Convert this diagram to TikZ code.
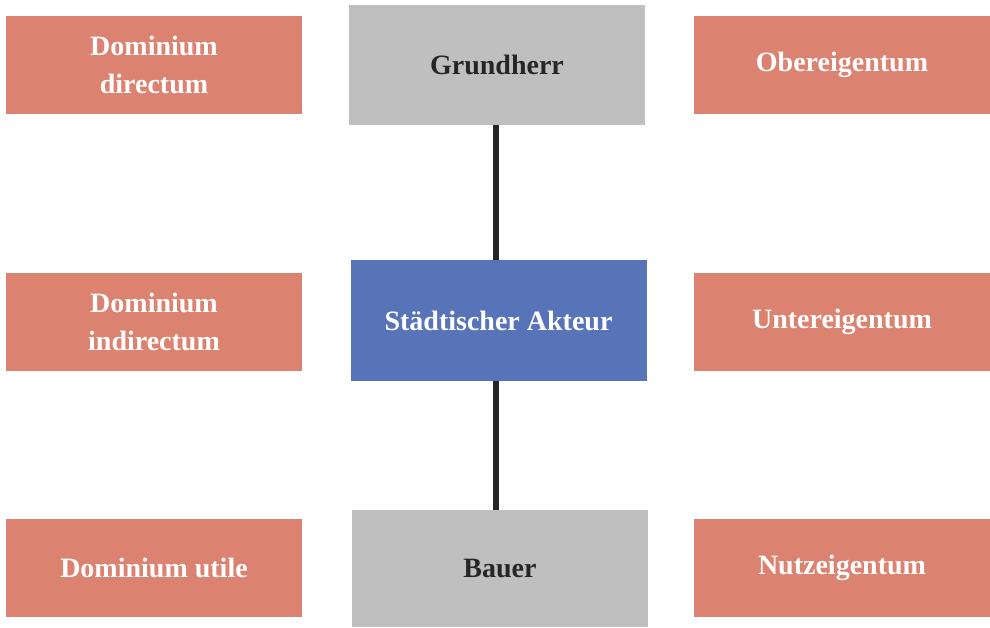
\documentclass[tikz,border=0pt]{standalone}
\usepackage{fontspec}
\setmainfont{Liberation Serif}
\definecolor{salmon}{HTML}{DB8270}
\definecolor{greybox}{HTML}{BFBFBF}
\definecolor{bluebox}{HTML}{5874B8}
\definecolor{darkline}{HTML}{262626}
\begin{document}
\begin{tikzpicture}[x=1pt,y=-1pt,
  box/.style={inner sep=0pt, outer sep=0pt, align=center, font=\fontsize{28}{38}\selectfont\bfseries},
  sidebox/.style={box, fill=salmon, text=white, minimum width=296pt, minimum height=98pt},
  greyb/.style={box, fill=greybox, text=darkline, minimum width=296pt},
  blueb/.style={box, fill=bluebox, text=white, minimum width=296pt, minimum height=121pt},
  conn/.style={draw=darkline, line width=5.5pt}]
\useasboundingbox (0,0) rectangle (990,627);
% left column
\node[sidebox] (dd) at (154,64.5) {Dominium\\directum};
\node[sidebox] (di) at (154,322) {Dominium\\indirectum};
\node[sidebox] (du) at (154,568) {Dominium utile};
% right column
\node[sidebox] (oe) at (842,64.5) {Obereigentum};
\node[sidebox] (ue) at (842,322) {Untereigentum};
\node[sidebox] (ne) at (842,568) {Nutzeigentum};
% centre
\node[greyb, minimum height=120pt] (gh) at (497,65) {Grundherr};
\node[blueb] (sa) at (498.5,320.5) {Städtischer Akteur};
\node[greyb, minimum height=117pt] (ba) at (500,568.5) {Bauer};
\draw[conn] (gh.south -| 496,0) -- (sa.north -| 496,0);
\draw[conn] (sa.south -| 496,0) -- (ba.north -| 496,0);
\end{tikzpicture}
\end{document}
